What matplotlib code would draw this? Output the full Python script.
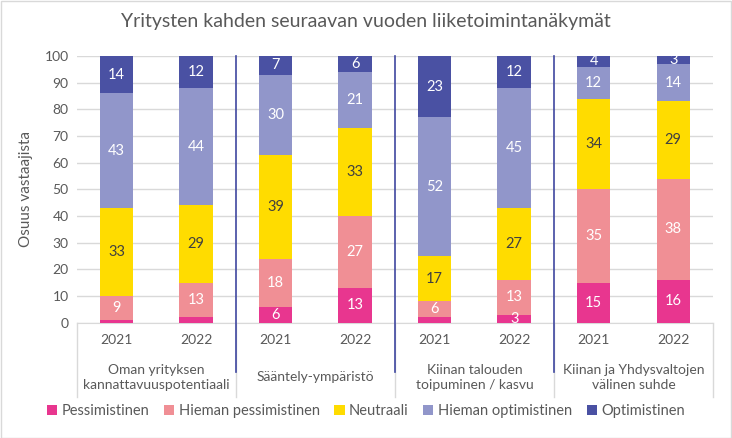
import matplotlib.pyplot as plt
import matplotlib.patches as patches
import numpy as np

plt.rcParams['font.family'] = ['Lato', 'DejaVu Sans']

groups = ['Oman yrityksen\nkannattavuuspotentiaali', 'Sääntely-ympäristö',
          'Kiinan talouden\ntoipuminen / kasvu', 'Kiinan ja Yhdysvaltojen\nvälinen suhde']
years = ['2021', '2022']
series = ['Pessimistinen', 'Hieman pessimistinen', 'Neutraali',
          'Hieman optimistinen', 'Optimistinen']

# one value per bar: group1 2021, group1 2022, group2 2021, ...
pessimistinen = [1, 2, 6, 13, 2, 3, 15, 16]
hieman_pess = [9, 13, 18, 27, 6, 13, 35, 38]
neutraali = [33, 29, 39, 33, 17, 27, 34, 29]
hieman_opt = [43, 44, 30, 21, 52, 45, 12, 14]
optimistinen = [14, 12, 7, 6, 23, 12, 4, 3]

values = [pessimistinen, hieman_pess, neutraali, hieman_opt, optimistinen]
colors = ['#E8368F', '#F08F95', '#FFDC00', '#9196CA', '#4A51A3']
label_colors = ['white', 'white', '#404040', 'white', 'white']

fig = plt.figure(figsize=(7.32, 4.38), dpi=100)
ax = fig.add_axes([0.105, 0.263, 0.869, 0.609])

x = np.arange(8) + 0.5
bottom = np.zeros(8)
for name, vals, col, lc in zip(series, values, colors, label_colors):
    vals = np.array(vals, dtype=float)
    ax.bar(x, vals, 0.42, bottom=bottom, color=col, label=name, zorder=3)
    for xi, b, v in zip(x, bottom, vals):
        if v >= 3:
            ax.text(xi, b + v / 2, f'{int(v)}', ha='center', va='center',
                    color=lc, fontsize=10.5, zorder=4)
    bottom += vals

ax.set_xlim(0, 8)
ax.set_ylim(0, 100)
ax.set_yticks(range(0, 101, 10))
ax.yaxis.grid(True, color='#D9D9D9', linewidth=1, zorder=0)
ax.set_xticks(x)
ax.set_xticklabels(years * 4)
ax.tick_params(axis='x', length=0, pad=8, labelsize=10, labelcolor='#595959')
ax.tick_params(axis='y', length=0, pad=6, labelsize=10, labelcolor='#595959')
for s in ['top', 'right', 'left']:
    ax.spines[s].set_visible(False)
ax.spines['bottom'].set_color('#D9D9D9')
ax.set_ylabel('Osuus vastaajista', fontsize=11, color='#595959', labelpad=8)

trans = ax.get_xaxis_transform()
for i, g in enumerate(groups):
    ax.text(2 * i + 1, -0.205, g, transform=trans, ha='center', va='center',
            fontsize=10, color='#595959', linespacing=1.35)
for b in range(0, 9, 2):
    ax.plot([b, b], [0, -0.28], transform=trans, color='#D9D9D9',
            linewidth=1, clip_on=False)
for b in [2, 4, 6]:
    ax.plot([b, b], [1.0, -0.185], transform=trans, color='#3F47A0',
            linewidth=1.2, clip_on=False, zorder=5)

fig.text(0.5, 0.95, 'Yritysten kahden seuraavan vuoden liiketoimintanäkymät',
         ha='center', va='center', fontsize=14, color='#595959')

fig.legend(loc='center', bbox_to_anchor=(0.5, 0.062), ncol=5, frameon=False,
           fontsize=10.5, handlelength=0.7, handleheight=0.7,
           handletextpad=0.3, columnspacing=1.0, labelcolor='#595959')

fig.add_artist(patches.Rectangle((0.001, 0.001), 0.997, 0.997,
                                 transform=fig.transFigure, fill=False,
                                 edgecolor='#D9D9D9', linewidth=1))

fig.savefig('out.png', dpi=100)
